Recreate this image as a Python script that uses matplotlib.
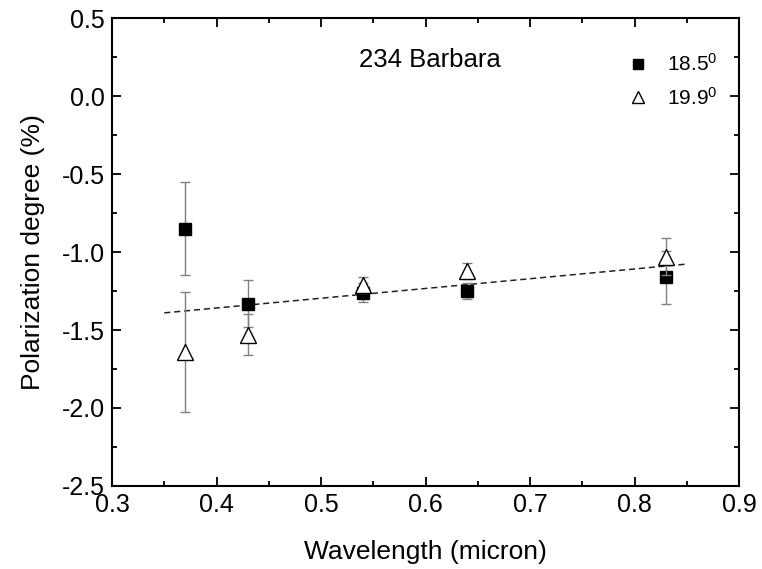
import matplotlib
matplotlib.use('Agg')
import matplotlib.pyplot as plt
from matplotlib.lines import Line2D
from matplotlib.ticker import MultipleLocator, FormatStrFormatter

plt.rcParams['font.family'] = ['Liberation Sans', 'DejaVu Sans']
plt.rcParams['mathtext.default'] = 'regular'
plt.rcParams['axes.unicode_minus'] = False

# data
wave = [0.37, 0.43, 0.54, 0.64, 0.83]
p_185 = [-0.85, -1.33, -1.26, -1.25, -1.16]
p_185_err = [0.30, 0.15, 0.06, 0.05, 0.17]
p_199 = [-1.64, -1.53, -1.21, -1.12, -1.03]
p_199_err = [0.385, 0.13, 0.05, 0.05, 0.12]
fit_x = [0.35, 0.85]
fit_y = [-1.39, -1.077]

fig = plt.figure(figsize=(7.62, 5.69), dpi=100)
ax = fig.add_axes([0.147, 0.146, 0.823, 0.822])

ax.plot(fit_x, fit_y, ls=(0, (4, 2.5)), color='#222222', lw=1.1, zorder=1)

ax.errorbar(wave, p_185, yerr=p_185_err, fmt='s', ms=9, color='black',
            ecolor='#808080', elinewidth=1, capsize=3.5, capthick=1, zorder=3)
ax.errorbar(wave, p_199, yerr=p_199_err, fmt='^', ms=11, mfc='white', mec='black',
            mew=1, ecolor='#808080', elinewidth=1, capsize=3.5, capthick=1, zorder=4)

ax.set_xlim(0.3, 0.9)
ax.set_ylim(-2.5, 0.5)
ax.xaxis.set_major_locator(MultipleLocator(0.1))
ax.xaxis.set_minor_locator(MultipleLocator(0.05))
ax.yaxis.set_major_locator(MultipleLocator(0.5))
ax.yaxis.set_minor_locator(MultipleLocator(0.25))
ax.xaxis.set_major_formatter(FormatStrFormatter('%.1f'))
ax.yaxis.set_major_formatter(FormatStrFormatter('%.1f'))

ax.tick_params(which='both', direction='in', top=True, right=True, width=1.3, labelsize=18)
ax.tick_params(which='major', length=6.5, pad=5)
ax.tick_params(which='minor', length=3.6)
for s in ax.spines.values():
    s.set_linewidth(1.5)

ax.set_xlabel('Wavelength (micron)', fontsize=19, labelpad=17)
ax.set_ylabel('Polarization degree (%)', fontsize=19, labelpad=12)

ax.text(0.507, 0.91, '234 Barbara', transform=ax.transAxes, fontsize=18.5,
        ha='center', va='center')

handles = [Line2D([], [], ls='none', marker='s', ms=7, color='black'),
           Line2D([], [], ls='none', marker='^', ms=9, mfc='white', mec='black', mew=1)]
ax.legend(handles, ['18.5$^0$', '19.9$^0$'], loc='upper right',
          bbox_to_anchor=(0.995, 0.965), frameon=False, fontsize=15,
          handlelength=0.8, handletextpad=1.0, labelspacing=0.55)

fig.savefig('out.png', dpi=100)
